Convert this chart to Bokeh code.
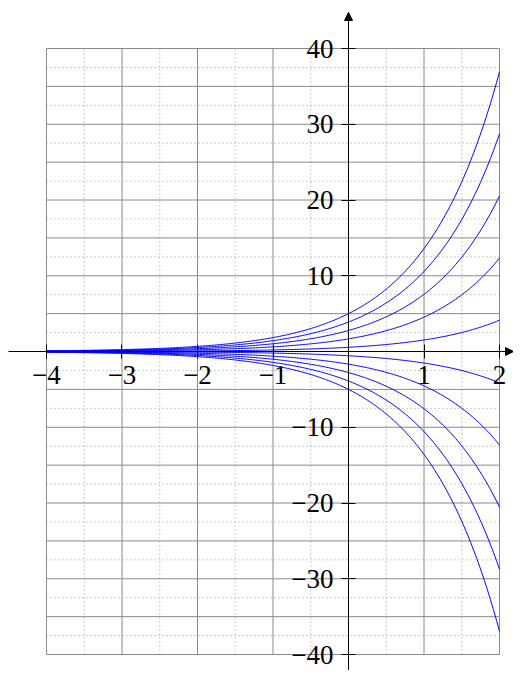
import numpy as np
from bokeh.plotting import figure
from bokeh.models import Range1d, LinearAxis, FixedTicker, Arrow, NormalHead
from bokeh.embed import file_html
from bokeh.resources import INLINE

# ---- data ----
x_grid_major = [-4, -3, -2, -1, 0, 1, 2]
x_grid_minor = [-3.5, -2.5, -1.5, -0.5, 0.5, 1.5]
y_grid_major = [-40, -35, -30, -25, -20, -15, -10, -5, 0, 5, 10, 15, 20, 25, 30, 35, 40]
y_grid_minor = [-37.5, -32.5, -27.5, -22.5, -17.5, -12.5, -7.5, -2.5,
                2.5, 7.5, 12.5, 17.5, 22.5, 27.5, 32.5, 37.5]
x_ticks = [-4, -3, -2, -1, 1, 2]
x_tick_labels = ["\u22124", "\u22123", "\u22122", "\u22121", "1", "2"]
y_ticks = [-40, -30, -20, -10, 10, 20, 30, 40]
y_tick_labels = ["\u221240", "\u221230", "\u221220", "\u221210", "10", "20", "30", "40"]
x_domain = [-4, 2]
y_domain = [-40, 40]
# family of curves y = C * e^x ; C read as the value of each curve at x = 0
initial_values = [-5.0, -3.89, -2.78, -1.67, -0.56, 0.56, 1.67, 2.78, 3.89, 5.0]

W, H = 513, 670
xr = Range1d(-4.609, 2.185)
yr = Range1d(-42.11, 46.34)

p = figure(width=W, height=H, x_range=xr, y_range=yr,
           output_backend="svg", toolbar_location=None,
           min_border=0, x_axis_type=None, y_axis_type=None)
p.outline_line_color = None
p.background_fill_color = "white"
p.border_fill_color = "white"

# minor dotted grid
p.segment(x0=x_grid_minor, x1=x_grid_minor,
          y0=[y_domain[0]] * len(x_grid_minor), y1=[y_domain[1]] * len(x_grid_minor),
          line_color="#9a9a9a", line_width=1, line_dash="1 3")
p.segment(x0=[x_domain[0]] * len(y_grid_minor), x1=[x_domain[1]] * len(y_grid_minor),
          y0=y_grid_minor, y1=y_grid_minor,
          line_color="#9a9a9a", line_width=1, line_dash="1 3")
# major grid
p.segment(x0=x_grid_major, x1=x_grid_major,
          y0=[y_domain[0]] * len(x_grid_major), y1=[y_domain[1]] * len(x_grid_major),
          line_color="#8a8a8a", line_width=1)
p.segment(x0=[x_domain[0]] * len(y_grid_major), x1=[x_domain[1]] * len(y_grid_major),
          y0=y_grid_major, y1=y_grid_major,
          line_color="#8a8a8a", line_width=1)

# curves
xs = np.linspace(x_domain[0], x_domain[1], 300)
for c in initial_values:
    p.line(xs, c * np.exp(xs), line_color="#0000ff", line_width=1)

font = "Liberation Serif"

# axes with ticks & labels (through origin)
xaxis = LinearAxis(fixed_location=0, ticker=FixedTicker(ticks=x_ticks),
                   major_label_overrides=dict(zip(x_ticks, x_tick_labels)))
xaxis.axis_line_color = None
xaxis.major_tick_in = 7
xaxis.major_tick_out = 7
xaxis.major_tick_line_color = "black"
xaxis.minor_tick_line_color = None
xaxis.major_label_text_font = font
xaxis.major_label_text_font_size = "27px"
xaxis.major_label_text_color = "black"
xaxis.major_label_standoff = 7
p.add_layout(xaxis, "below")

yaxis = LinearAxis(fixed_location=0, ticker=FixedTicker(ticks=y_ticks),
                   major_label_overrides=dict(zip(y_ticks, y_tick_labels)))
yaxis.axis_line_color = None
yaxis.major_tick_in = 7
yaxis.major_tick_out = 7
yaxis.major_tick_line_color = "black"
yaxis.minor_tick_line_color = None
yaxis.major_label_text_font = font
yaxis.major_label_text_font_size = "27px"
yaxis.major_label_text_color = "black"
yaxis.major_label_standoff = 8
p.add_layout(yaxis, "left")

# axis lines with arrow heads
p.add_layout(Arrow(end=NormalHead(size=8, fill_color="black", line_color="black"),
                   x_start=-4.503, x_end=xr.end, y_start=0, y_end=0,
                   line_color="black", line_width=1))
p.add_layout(Arrow(end=NormalHead(size=8, fill_color="black", line_color="black"),
                   x_start=0, x_end=0, y_start=yr.start, y_end=44.76,
                   line_color="black", line_width=1))

open("out.html", "w").write(file_html(p, INLINE))
